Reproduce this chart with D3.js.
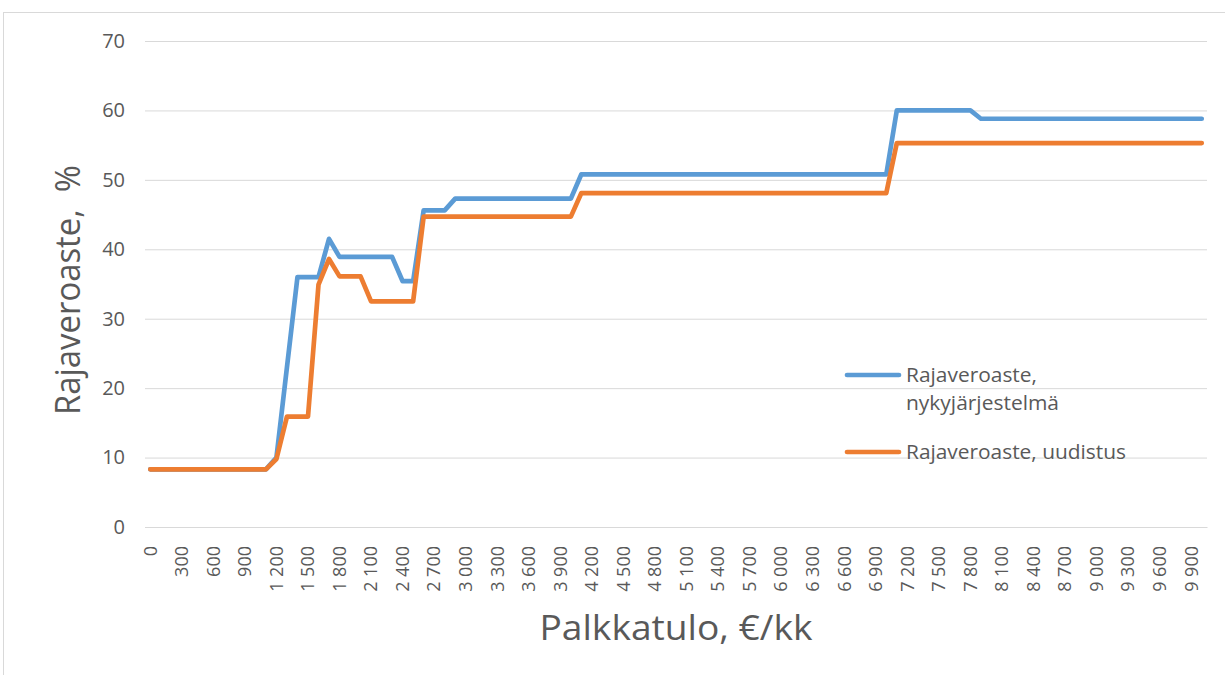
<!DOCTYPE html>
<html>
<head>
<meta charset="utf-8">
<script src="https://cdn.jsdelivr.net/npm/d3@7"></script>
<style>
  html, body { margin: 0; padding: 0; background: #ffffff; }
  svg { display: block; }
  text { font-family: "Open Sans", "Liberation Sans", sans-serif; fill: #595959; }
</style>
</head>
<body>
<svg id="chart" width="1225" height="675"></svg>
<script>
// ---- data ----
const categories = [
  0,100,200,300,400,500,600,700,800,900,
  1000,1100,1200,1300,1400,1500,1600,1700,1800,1900,
  2000,2100,2200,2300,2400,2500,2600,2700,2800,2900,
  3000,3100,3200,3300,3400,3500,3600,3700,3800,3900,
  4000,4100,4200,4300,4400,4500,4600,4700,4800,4900,
  5000,5100,5200,5300,5400,5500,5600,5700,5800,5900,
  6000,6100,6200,6300,6400,6500,6600,6700,6800,6900,
  7000,7100,7200,7300,7400,7500,7600,7700,7800,7900,
  8000,8100,8200,8300,8400,8500,8600,8700,8800,8900,
  9000,9100,9200,9300,9400,9500,9600,9700,9800,9900,
  10000
];
const nykyjarjestelma = [
  8.3,8.3,8.3,8.3,8.3,8.3,8.3,8.3,8.3,8.3,
  8.3,8.3,10,23,36,36,36,41.5,38.9,38.9,
  38.9,38.9,38.9,38.9,35.4,35.4,45.6,45.6,45.6,47.3,
  47.3,47.3,47.3,47.3,47.3,47.3,47.3,47.3,47.3,47.3,
  47.3,50.8,50.8,50.8,50.8,50.8,50.8,50.8,50.8,50.8,
  50.8,50.8,50.8,50.8,50.8,50.8,50.8,50.8,50.8,50.8,
  50.8,50.8,50.8,50.8,50.8,50.8,50.8,50.8,50.8,50.8,
  50.8,60,60,60,60,60,60,60,60,58.8,
  58.8,58.8,58.8,58.8,58.8,58.8,58.8,58.8,58.8,58.8,
  58.8,58.8,58.8,58.8,58.8,58.8,58.8,58.8,58.8,58.8,
  58.8
];
const uudistus = [
  8.3,8.3,8.3,8.3,8.3,8.3,8.3,8.3,8.3,8.3,
  8.3,8.3,9.8,15.9,15.9,15.9,34.9,38.6,36.1,36.1,
  36.1,32.5,32.5,32.5,32.5,32.5,44.7,44.7,44.7,44.7,
  44.7,44.7,44.7,44.7,44.7,44.7,44.7,44.7,44.7,44.7,
  44.7,48.1,48.1,48.1,48.1,48.1,48.1,48.1,48.1,48.1,
  48.1,48.1,48.1,48.1,48.1,48.1,48.1,48.1,48.1,48.1,
  48.1,48.1,48.1,48.1,48.1,48.1,48.1,48.1,48.1,48.1,
  48.1,55.3,55.3,55.3,55.3,55.3,55.3,55.3,55.3,55.3,
  55.3,55.3,55.3,55.3,55.3,55.3,55.3,55.3,55.3,55.3,
  55.3,55.3,55.3,55.3,55.3,55.3,55.3,55.3,55.3,55.3,
  55.3
];
const xTickValues = [0,300,600,900,1200,1500,1800,2100,2400,2700,3000,3300,3600,3900,
  4200,4500,4800,5100,5400,5700,6000,6300,6600,6900,7200,7500,7800,8100,8400,8700,
  9000,9300,9600,9900];
const yTickValues = [0,10,20,30,40,50,60,70];
const seriesNames = ["Rajaveroaste,\nnykyjärjestelmä", "Rajaveroaste, uudistus"];
const seriesColors = ["#5B9BD5", "#ED7D31"];
const xTitle = "Palkkatulo, €/kk";
const yTitle = "Rajaveroaste,\u00a0\u00a0%";

// ---- drawing ----
const svg = d3.select("#chart");
const pLeft = 145, pRight = 1207, pTop = 41, pBottom = 527;

// outer frame
svg.append("rect")
  .attr("x", 3.5).attr("y", 12.5).attr("width", 1240).attr("height", 700)
  .attr("fill", "none").attr("stroke", "#d9d9d9").attr("stroke-width", 1);

const x = d3.scaleBand().domain(categories).range([pLeft, pRight]).padding(0);
const y = d3.scaleLinear().domain([0, 70]).range([pBottom, pTop]);
const cx = d => x(d) + x.bandwidth() / 2;

// gridlines
svg.append("g")
  .attr("transform", `translate(${pLeft},0)`)
  .call(d3.axisLeft(y).tickValues(yTickValues).tickSize(-(pRight - pLeft)).tickFormat(""))
  .call(g => g.select(".domain").remove())
  .call(g => g.selectAll("line").attr("stroke", "#d9d9d9").attr("stroke-width", 1));

// y tick labels
svg.append("g")
  .attr("transform", `translate(${pLeft},0)`)
  .call(d3.axisLeft(y).tickValues(yTickValues).tickSize(0).tickPadding(20))
  .call(g => g.select(".domain").remove())
  .call(g => g.selectAll("text").attr("font-size", 20).attr("font-family", null).style("fill", "#595959"));

// x axis
const fi = d3.formatLocale({decimal: ",", thousands: "\u00a0", grouping: [3], currency: ["", "€"]});
const fmt = fi.format(",d");
svg.append("g")
  .attr("transform", `translate(0,${pBottom})`)
  .call(d3.axisBottom(x).tickValues(xTickValues).tickSize(0).tickPadding(0).tickFormat(fmt))
  .call(g => g.select(".domain").attr("stroke", "#d9d9d9"))
  .call(g => g.selectAll("text")
    .attr("font-size", 18).attr("font-family", null).style("fill", "#595959")
    .attr("text-anchor", "end").attr("dy", "0.35em")
    .attr("transform", "translate(0,19) rotate(-90)")
    .attr("x", 0).attr("y", 0));

// lines
const line = d3.line().x((d, i) => cx(categories[i])).y(d => y(d));
[nykyjarjestelma, uudistus].forEach((s, k) => {
  svg.append("path").datum(s)
    .attr("d", line)
    .attr("fill", "none").attr("stroke", seriesColors[k])
    .attr("stroke-width", 4.7).attr("stroke-linejoin", "round").attr("stroke-linecap", "round");
});

// axis titles
svg.append("text")
  .attr("x", 676).attr("y", 640).attr("text-anchor", "middle")
  .attr("font-size", 34).attr("textLength", 273).attr("lengthAdjust", "spacingAndGlyphs")
  .text(xTitle);
svg.append("text")
  .attr("transform", "translate(80,290) rotate(-90)").attr("text-anchor", "middle")
  .attr("font-size", 34).attr("textLength", 250).attr("lengthAdjust", "spacingAndGlyphs")
  .text(yTitle);

// legend
const legend = svg.append("g");
const legendRows = [
  {y: 375, lines: seriesNames[0].split("\n"), widths: [131, 153]},
  {y: 452, lines: [seriesNames[1]], widths: [220]}
];
legendRows.forEach((r, k) => {
  legend.append("line")
    .attr("x1", 847).attr("x2", 899).attr("y1", r.y).attr("y2", r.y)
    .attr("stroke", seriesColors[k]).attr("stroke-width", 4.7).attr("stroke-linecap", "round");
  r.lines.forEach((t, j) => {
    legend.append("text")
      .attr("x", 906).attr("y", r.y + 7 + j * 28)
      .attr("font-size", 20).attr("textLength", r.widths[j]).attr("lengthAdjust", "spacingAndGlyphs")
      .text(t);
  });
});
</script>
</body>
</html>
